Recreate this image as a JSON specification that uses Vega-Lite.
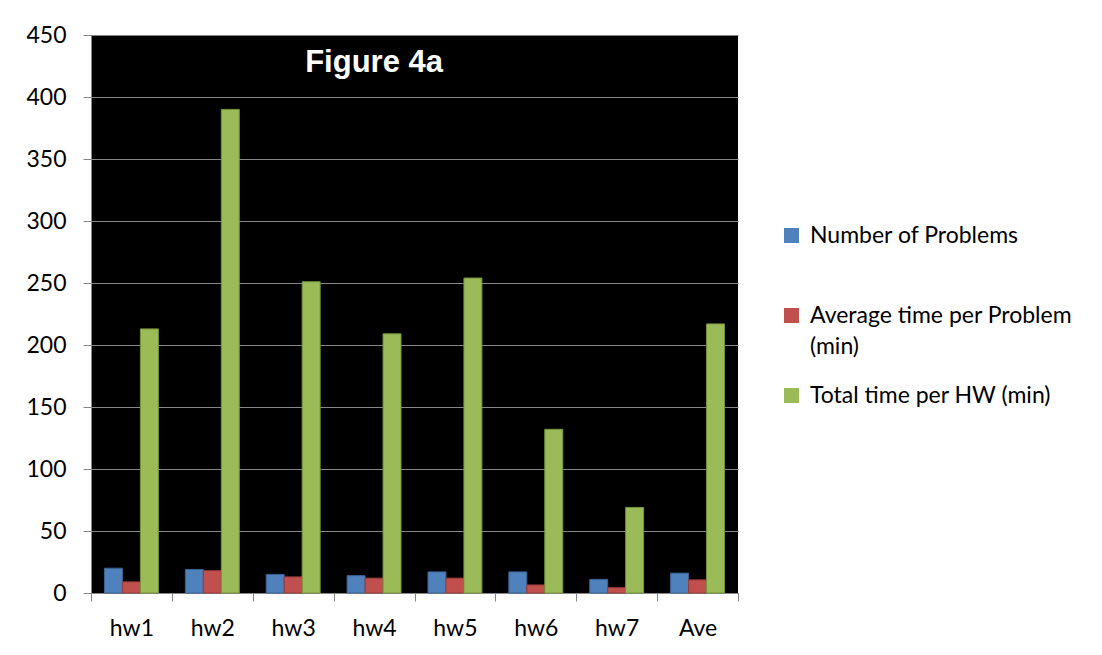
{
  "$schema": "https://vega.github.io/schema/vega-lite/v6.json",
  "autosize": {"type": "none"},
  "padding": {"left": 91, "top": 35, "right": 364, "bottom": 62},
  "width": 647,
  "height": 558,
  "background": "white",
  "layer": [
    {
      "data": {
        "values": [
          {"hw": "hw1", "series": "Number of Problems", "value": 20},
          {"hw": "hw1", "series": "Average time per Problem (min)", "value": 9},
          {"hw": "hw1", "series": "Total time per  HW (min)", "value": 213},
          {"hw": "hw2", "series": "Number of Problems", "value": 19},
          {"hw": "hw2", "series": "Average time per Problem (min)", "value": 18},
          {"hw": "hw2", "series": "Total time per  HW (min)", "value": 390},
          {"hw": "hw3", "series": "Number of Problems", "value": 15},
          {"hw": "hw3", "series": "Average time per Problem (min)", "value": 13},
          {"hw": "hw3", "series": "Total time per  HW (min)", "value": 251},
          {"hw": "hw4", "series": "Number of Problems", "value": 14},
          {"hw": "hw4", "series": "Average time per Problem (min)", "value": 12},
          {"hw": "hw4", "series": "Total time per  HW (min)", "value": 209},
          {"hw": "hw5", "series": "Number of Problems", "value": 17},
          {"hw": "hw5", "series": "Average time per Problem (min)", "value": 12},
          {"hw": "hw5", "series": "Total time per  HW (min)", "value": 254},
          {"hw": "hw6", "series": "Number of Problems", "value": 17},
          {"hw": "hw6", "series": "Average time per Problem (min)", "value": 6.5},
          {"hw": "hw6", "series": "Total time per  HW (min)", "value": 132},
          {"hw": "hw7", "series": "Number of Problems", "value": 11},
          {"hw": "hw7", "series": "Average time per Problem (min)", "value": 4.3},
          {"hw": "hw7", "series": "Total time per  HW (min)", "value": 69},
          {"hw": "Ave", "series": "Number of Problems", "value": 16},
          {"hw": "Ave", "series": "Average time per Problem (min)", "value": 10.6},
          {"hw": "Ave", "series": "Total time per  HW (min)", "value": 217}
        ]
      },
      "mark": {"type": "bar", "strokeWidth": 1},
      "encoding": {
        "x": {
          "field": "hw",
          "type": "nominal",
          "sort": ["hw1", "hw2", "hw3", "hw4", "hw5", "hw6", "hw7", "Ave"],
          "scale": {"paddingInner": 0, "paddingOuter": 0},
          "axis": {
            "title": null,
            "labelAngle": 0,
            "tickBand": "extent",
            "tickSize": 8,
            "tickColor": "#868686",
            "domainColor": "#868686",
            "labelPadding": 16,
            "labelFont": "Lato",
            "labelFontSize": 23,
            "labelColor": "black",
            "grid": false
          }
        },
        "xOffset": {
          "field": "series",
          "type": "nominal",
          "sort": ["Number of Problems", "Average time per Problem (min)", "Total time per  HW (min)"],
          "scale": {"paddingInner": 0, "paddingOuter": 0.75}
        },
        "y": {
          "field": "value",
          "type": "quantitative",
          "scale": {"domain": [0, 450], "nice": false},
          "axis": {
            "title": null,
            "values": [0, 50, 100, 150, 200, 250, 300, 350, 400, 450],
            "tickSize": 8,
            "tickColor": "#868686",
            "domainColor": "#868686",
            "gridColor": "#868686",
            "gridWidth": 1,
            "labelPadding": 17,
            "labelFont": "Lato",
            "labelFontSize": 23,
            "labelColor": "black"
          }
        },
        "fill": {
          "field": "series",
          "type": "nominal",
          "scale": {
            "domain": ["Number of Problems", "Average time per Problem (min)", "Total time per  HW (min)"],
            "range": ["#4F81BD", "#C0504D", "#9BBB59"]
          },
          "legend": {
            "title": null,
            "orient": "none",
            "legendX": 689,
            "legendY": 189,
            "padding": 0,
            "gridAlign": "all",
            "symbolType": "square",
            "symbolSize": 225,
            "symbolStrokeWidth": 0,
            "labelFont": "Lato",
            "labelFontSize": 23,
            "labelColor": "black",
            "labelOffset": 7,
            "labelLimit": 400,
            "labelBaseline": "alphabetic",
            "rowPadding": 25,
            "labelExpr": "datum.label == 'Average time per Problem (min)' ? ['Average time per Problem', '(min)'] : datum.label",
            "encode": {
              "labels": {"update": {"dy": {"value": 7}, "lineHeight": {"value": 31}}}
            }
          }
        },
        "stroke": {
          "field": "series",
          "type": "nominal",
          "scale": {
            "domain": ["Number of Problems", "Average time per Problem (min)", "Total time per  HW (min)"],
            "range": ["#3A6494", "#963C3A", "#77933C"]
          },
          "legend": null
        }
      }
    },
    {
      "data": {"values": [{"caption": "Figure 4a"}]},
      "mark": {
        "type": "text",
        "font": "Liberation Sans",
        "fontWeight": "bold",
        "fontSize": 31,
        "color": "white",
        "align": "center",
        "baseline": "alphabetic"
      },
      "encoding": {
        "text": {"field": "caption"},
        "x": {"datum": "hw4"},
        "y": {"datum": 420}
      }
    }
  ],
  "config": {
    "view": {"fill": "black", "stroke": null}
  }
}
